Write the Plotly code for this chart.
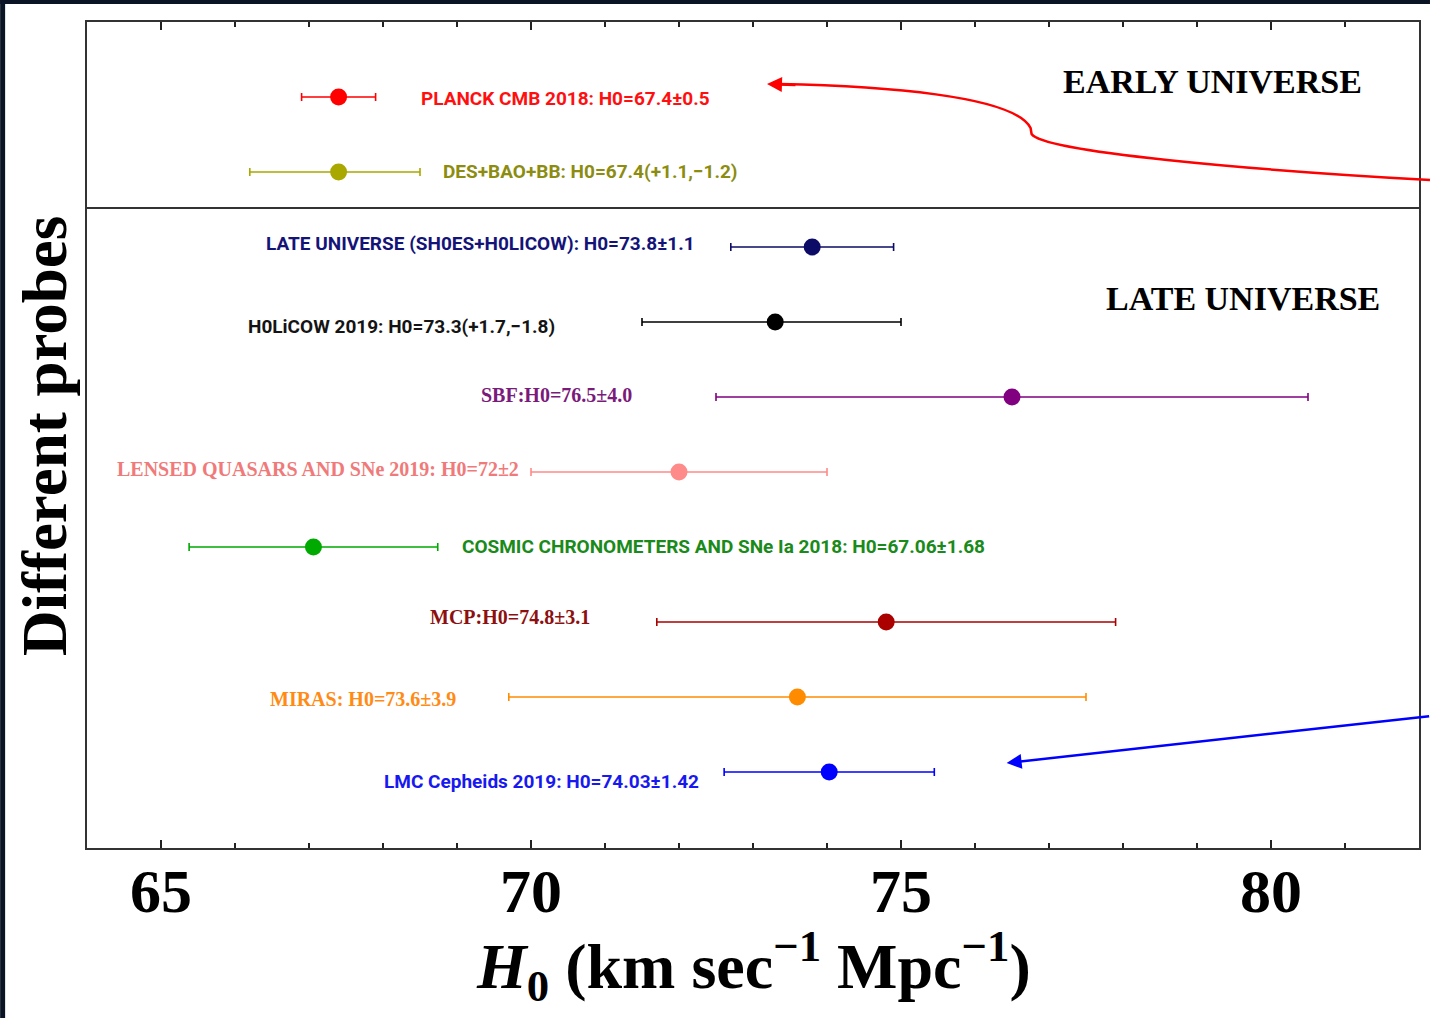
import plotly.graph_objects as go

# Hubble constant measurements from different probes (top to bottom)
probes = [
    "PLANCK CMB 2018: H0=67.4±0.5",
    "DES+BAO+BB: H0=67.4(+1.1,−1.2)",
    "LATE UNIVERSE (SH0ES+H0LICOW): H0=73.8±1.1",
    "H0LiCOW 2019: H0=73.3(+1.7,−1.8)",
    "SBF:H0=76.5±4.0",
    "LENSED QUASARS AND SNe 2019: H0=72±2",
    "COSMIC CHRONOMETERS AND SNe Ia 2018: H0=67.06±1.68",
    "MCP:H0=74.8±3.1",
    "MIRAS: H0=73.6±3.9",
    "LMC Cepheids 2019: H0=74.03±1.42",
]
h0 = [67.4, 67.4, 73.8, 73.3, 76.5, 72.0, 67.06, 74.8, 73.6, 74.03]
err_plus = [0.5, 1.1, 1.1, 1.7, 4.0, 2.0, 1.68, 3.1, 3.9, 1.42]
err_minus = [0.5, 1.2, 1.1, 1.8, 4.0, 2.0, 1.68, 3.1, 3.9, 1.42]
rows = [10, 9, 8, 7, 6, 5, 4, 3, 2, 1]

marker_colors = ["#ff0000", "#a8a800", "#0c0c66", "#000000", "#800080",
                 "#ff8a8a", "#00aa00", "#aa0000", "#ff8c00", "#0000ff"]
text_colors = ["#ff1010", "#8c8c10", "#141478", "#141414", "#7a1a7a",
               "#f07a7a", "#1a8a1a", "#8c1010", "#ff8a14", "#1818f0"]
serif_label = [False, False, False, False, True, True, False, True, True, False]
label_x = [68.48, 68.79, 66.39, 66.15, 69.30, 64.38, 69.04, 68.61, 66.44, 67.98]
label_dy = [-1, 1, 4, -4, 2, 3, 1, 5, -2, -9]

x_ticks = [65, 70, 75, 80]
x_range = [64.0, 82.0]

W, H = 1432, 1018
L, R, T, B = 87, 11, 22, 170
pw, ph = W - L - R, H - T - B


def px(x):
    return (x - L) / pw


def py(y):
    return (H - B - y) / ph


fig = go.Figure()

for i in range(len(probes)):
    fig.add_trace(go.Scatter(
        x=[h0[i]], y=[rows[i]], mode="markers",
        marker=dict(size=17, color=marker_colors[i]),
        error_x=dict(type="data", symmetric=False,
                     array=[err_plus[i]], arrayminus=[err_minus[i]],
                     color=marker_colors[i], thickness=1.6, width=4),
        showlegend=False, hoverinfo="skip",
    ))
    fig.add_annotation(
        x=label_x[i], y=rows[i], xref="x", yref="y",
        text=probes[i], showarrow=False, xanchor="left", yanchor="middle",
        yshift=label_dy[i],
        font=dict(
            family="Liberation Serif" if serif_label[i] else "Roboto",
            size=20 if serif_label[i] else 19,
            weight="bold", color=text_colors[i]),
    )

# Region titles
fig.add_annotation(x=px(1062), y=py(82), xref="paper", yref="paper",
                   text="EARLY UNIVERSE", showarrow=False,
                   xanchor="left", yanchor="middle",
                   font=dict(family="Liberation Serif", size=34, weight="bold",
                             color="#000000"))
fig.add_annotation(x=px(1106), y=py(298), xref="paper", yref="paper",
                   text="LATE UNIVERSE", showarrow=False,
                   xanchor="left", yanchor="middle",
                   font=dict(family="Liberation Serif", size=34, weight="bold",
                             color="#000000"))

# Axis titles
fig.add_annotation(x=px(45), y=py(436), xref="paper", yref="paper",
                   text="Different probes", showarrow=False, textangle=-90,
                   xanchor="center", yanchor="middle",
                   font=dict(family="Liberation Serif", size=63, weight="bold",
                             color="#000000"))
fig.add_annotation(x=px(754), y=py(966), xref="paper", yref="paper",
                   text="<i>H</i><sub>0</sub> (km sec<sup>−1</sup> Mpc<sup>−1</sup>)",
                   showarrow=False, xanchor="center", yanchor="middle",
                   font=dict(family="Liberation Serif", size=64, weight="bold",
                             color="#000000"))

# Divider between early- and late-universe probes
fig.add_shape(type="line", xref="paper", yref="y", x0=0, x1=1, y0=8.52, y1=8.52,
              line=dict(color="#333333", width=2))

# Curved red pointer towards the early-universe group
p = [(1432, 180), (1250, 170), (1045, 152), (1033, 134), (1032, 128),
     (1015, 95), (880, 86), (780, 84)]
pp = [(px(a), py(b)) for a, b in p]
path = (f"M {pp[0][0]},{pp[0][1]} C {pp[1][0]},{pp[1][1]} {pp[2][0]},{pp[2][1]} "
        f"{pp[3][0]},{pp[3][1]} L {pp[4][0]},{pp[4][1]} "
        f"C {pp[5][0]},{pp[5][1]} {pp[6][0]},{pp[6][1]} {pp[7][0]},{pp[7][1]}")
fig.add_shape(type="path", path=path, xref="paper", yref="paper",
              line=dict(color="#ff0000", width=2.5))
fig.add_annotation(x=px(768), y=py(84), xref="paper", yref="paper",
                   ax=30, ay=1, axref="pixel", ayref="pixel", text="",
                   showarrow=True, arrowhead=2, arrowsize=1.2, arrowwidth=2.5,
                   arrowcolor="#ff0000")

# Blue pointer towards the LMC Cepheid result
fig.add_annotation(x=px(1008), y=py(763), xref="paper", yref="paper",
                   ax=424, ay=-47, axref="pixel", ayref="pixel", text="",
                   showarrow=True, arrowhead=2, arrowsize=1.2, arrowwidth=2.5,
                   arrowcolor="#0000ff")

# Dark border strips along the top and left edges of the page
fig.add_shape(type="rect", xref="paper", yref="paper",
              x0=px(0), x1=px(W), y0=py(4), y1=py(0),
              fillcolor="#0b1424", line_width=0, layer="below")
fig.add_shape(type="rect", xref="paper", yref="paper",
              x0=px(0), x1=px(5), y0=py(H), y1=py(0),
              fillcolor="#0b1424", line_width=0, layer="below")

fig.update_xaxes(
    range=x_range, tickvals=x_ticks, ticks="inside", ticklen=8, tickwidth=2,
    tickcolor="#222222", showgrid=False, zeroline=False,
    showline=True, linecolor="#333333", linewidth=2, mirror="ticks",
    tickfont=dict(family="Liberation Serif", size=62, color="#000000",
                  weight="bold"),
    ticklabelstandoff=-12,
    minor=dict(dtick=1, ticks="inside", ticklen=5, tickwidth=2,
               tickcolor="#222222", showgrid=False),
)
fig.update_yaxes(
    range=[-0.013, 11], showticklabels=False, ticks="", showgrid=False,
    zeroline=False, showline=True, linecolor="#333333", linewidth=2,
    mirror=True,
)

fig.update_layout(
    width=W, height=H,
    margin=dict(l=L, r=R, t=T, b=B),
    paper_bgcolor="#ffffff", plot_bgcolor="#ffffff",
)

fig.write_html("out.html")
